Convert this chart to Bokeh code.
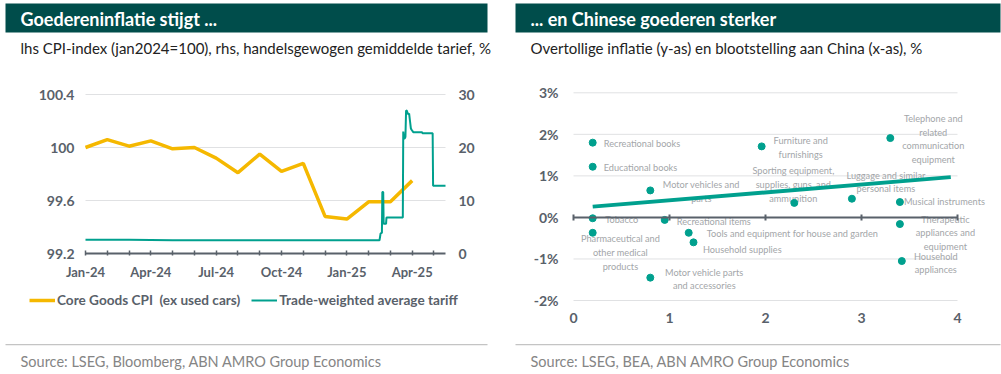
from bokeh.plotting import figure
from bokeh.models import (Range1d, LinearAxis, FixedTicker, Legend, LegendItem, Label,
                          BoxAnnotation, ColumnDataSource, PrintfTickFormatter)
from bokeh.layouts import row
from bokeh.embed import file_html
from bokeh.resources import INLINE
from bokeh.core.properties import value

# ---------------- data: left panel ----------------
cpi_month = list(range(16))  # 0 = Jan-24 ... 15 = Apr-25
cpi_index = [100.0, 100.06, 100.01, 100.05, 99.99, 100.0, 99.92, 99.81,
             99.95, 99.82, 99.88, 99.48, 99.46, 99.59, 99.59, 99.75]

tariff_month = [0, 2, 4, 6, 8, 10, 12, 13.50, 13.55, 13.61, 13.63, 13.67, 13.69,
                13.80, 13.82, 14.57, 14.59, 14.62, 14.66, 14.69, 14.72, 14.76,
                14.80, 14.86, 14.90, 14.94, 14.98, 15.05, 15.45, 15.47, 15.94,
                15.96, 16.53]
tariff_rate = [2.6, 2.6, 2.5, 2.5, 2.5, 2.5, 2.5, 2.5, 3.8, 3.9, 11.6, 11.6, 5.6,
               5.6, 6.8, 6.8, 23.0, 21.7, 21.7, 22.0, 27.0, 26.9, 26.3, 26.4,
               25.0, 23.6, 23.3, 22.9, 22.9, 22.7, 22.7, 12.8, 12.8]

month_domain = [0, 16.53]
month_ticks = list(range(17))
quarter_ticks = [0, 3, 6, 9, 12, 15]
quarter_labels = ["Jan-24", "Apr-24", "Jul-24", "Oct-24", "Jan-25", "Apr-25"]
cpi_domain = [99.2, 100.4]
cpi_ticks = [99.2, 99.6, 100, 100.4]
cpi_tick_labels = ["99.2", "99.6", "100", "100.4"]
tariff_domain = [0, 30]
tariff_ticks = [0, 10, 20, 30]

# ---------------- data: right panel ----------------
categories = ["Recreational books", "Educational books", "Motor vehicles and\nparts",
              "Furniture and\nfurnishings",
              "Telephone and\nrelated\ncommunication\nequipment",
              "Sporting equipment,\nsupplies, guns, and\nammunition",
              "Luggage and similar\npersonal items", "Musical instruments", "Tobacco",
              "Recreational items", "Tools and equipment for house and garden",
              "Household supplies", "Pharmaceutical and\nother medical\nproducts",
              "Motor vehicle parts\nand accessories",
              "Therapeutic\nappliances and\nequipment", "Household\nappliances"]
china_exposure = [0.20, 0.20, 0.80, 1.96, 3.30, 2.30, 2.90, 3.40, 0.20, 0.95, 1.20,
                  1.25, 0.20, 0.80, 3.40, 3.42]
excess_inflation = [1.80, 1.22, 0.65, 1.71, 1.91, 0.35, 0.45, 0.37, -0.02, -0.06,
                    -0.37, -0.60, -0.37, -1.45, -0.16, -1.05]
trend_x = [0.20, 3.93]
trend_y = [0.26, 0.97]
x_domain = [0, 4]
x_ticks = [0, 1, 2, 3, 4]
pct_domain = [-2, 3]
pct_ticks = [-2, -1, 0, 1, 2, 3]

# ---------------- styles ----------------
FONT = "Lato"
HDR = "#004d4b"
TEAL = "#00a08e"
YELLOW = "#f5b800"
AX = "#59616a"
GRID = "#e0e1e3"
LBL = "#a3a6a9"
SRC = "#858585"
SEP = "#c4c4c4"
H = 374

label_dx = [11, 11, 51, 39, 43, -1, 34, 4, 12.5, 12, 18, 9.5, 27.7, 54, 45.5, 34]
label_dy = [1, 1, 1, 1.3, 1, -18.3, -16.7, -1, 1, 1.5, 1, 7, 19.6, 1.3, 8.7, 2]
label_align = ["left", "left", "center", "center", "center", "center", "center", "left",
               "left", "left", "left", "left", "center", "center", "center", "center"]


def fit_range(v0, v1, p0, p1, total):
    """Range so that value v0 sits at pixel p0 and v1 at p1 of a canvas side of length total."""
    scale = (p1 - p0) / (v1 - v0)
    start = v0 - p0 / scale
    return Range1d(start, start + total / scale)


def header(p, left, right, tx, title, subtitle, source):
    cu = dict(left_units="canvas", right_units="canvas", top_units="canvas",
              bottom_units="canvas", fill_alpha=1, line_color=None)
    p.add_layout(BoxAnnotation(left=left, right=right, top=3, bottom=32, fill_color=HDR, **cu))
    p.add_layout(Label(x=tx, y=18, x_units="canvas", y_units="canvas", text=title,
                       text_color="white", text_font=FONT, text_font_style="bold",
                       text_font_size="18px", text_baseline="middle"))
    p.add_layout(Label(x=tx, y=47.5, x_units="canvas", y_units="canvas",
                       text=subtitle, text_color="#222222", text_font=FONT,
                       text_font_size="15px", text_baseline="middle"))
    p.add_layout(BoxAnnotation(left=left, right=right, top=343.5, bottom=344.7,
                               fill_color=SEP, **cu))
    p.add_layout(Label(x=tx, y=361, x_units="canvas", y_units="canvas",
                       text=source, text_color=SRC, text_font=FONT,
                       text_font_size="14.5px", text_baseline="middle"))


def style_axis(ax, size="13px"):
    ax.major_label_text_font = FONT
    ax.major_label_text_font_style = "bold"
    ax.major_label_text_font_size = size
    ax.major_label_text_color = AX
    ax.minor_tick_line_color = None


def bare(ax):
    ax.axis_line_color = None
    ax.major_tick_line_color = None
    ax.major_tick_out = 0
    ax.major_tick_in = 0


# ---------------- left figure ----------------
WL = 500
pL = figure(width=WL, height=H,
            x_range=fit_range(*month_domain, 85, 445, WL),
            y_range=fit_range(*cpi_domain, H - 253, H - 94, H),
            x_axis_location=None, y_axis_location=None, min_border=0,
            output_backend="svg", toolbar_location=None)
pL.extra_y_ranges = {"tariff": fit_range(*tariff_domain, H - 253, H - 94, H)}
pL.outline_line_color = None
pL.background_fill_color = "white"
pL.border_fill_color = "white"
pL.grid.visible = False

grid_l = cpi_ticks[1:]
pL.segment(x0=month_domain[0], x1=month_domain[1], y0=grid_l, y1=grid_l,
           line_color=GRID, line_width=1)

r_cpi = pL.line(cpi_month, cpi_index, color=YELLOW, line_width=3.5)
r_tar = pL.line(tariff_month, tariff_rate, color=TEAL, line_width=2, y_range_name="tariff")

yl = LinearAxis(fixed_location=month_domain[0], ticker=FixedTicker(ticks=cpi_ticks))
yl.major_label_overrides = dict(zip(cpi_ticks, cpi_tick_labels))
bare(yl)
yl.major_label_standoff = 11
style_axis(yl, "14px")
pL.add_layout(yl, "left")

yr = LinearAxis(y_range_name="tariff", fixed_location=month_domain[1],
                ticker=FixedTicker(ticks=tariff_ticks))
bare(yr)
yr.major_label_standoff = 13
style_axis(yr, "14px")
pL.add_layout(yr, "right")

xl = LinearAxis(fixed_location=cpi_domain[0], bounds=tuple(month_domain),
                ticker=FixedTicker(ticks=month_ticks))
ql = dict(zip(quarter_ticks, quarter_labels))
xl.major_label_overrides = {m: ql.get(m, "") for m in month_ticks}
xl.axis_line_color = AX
xl.axis_line_width = 2
xl.major_tick_line_color = AX
xl.major_tick_line_width = 1.5
xl.major_tick_in = 3
xl.major_tick_out = 2
xl.major_label_standoff = 8
style_axis(xl)
pL.add_layout(xl, "below")

leg = Legend(items=[LegendItem(label="Core Goods CPI  (ex used cars)", renderers=[r_cpi]),
                    LegendItem(label="Trade-weighted average tariff", renderers=[r_tar])],
             orientation="horizontal", location=(29, H - 308), padding=0, margin=0,
             spacing=11, glyph_width=26, glyph_height=16, label_height=16,
             label_standoff=2, border_line_color=None, background_fill_alpha=0,
             label_text_font=FONT, label_text_font_size="13.6px",
             label_text_font_style="bold", label_text_color=AX)
pL.add_layout(leg)

header(pL, 5, 487, 20, "Goedereninflatie stijgt ...",
       "lhs CPI-index (jan2024=100), rhs, handelsgewogen gemiddelde tarief, %",
       "Source: LSEG, Bloomberg, ABN AMRO Group Economics")

# ---------------- right figure ----------------
WR = 501
pR = figure(width=WR, height=H,
            x_range=fit_range(*x_domain, 73, 457, WR),
            y_range=fit_range(*pct_domain, H - 300, H - 92.3, H),
            x_axis_location=None, y_axis_location=None, min_border=0,
            output_backend="svg", toolbar_location=None)
pR.outline_line_color = None
pR.background_fill_color = "white"
pR.border_fill_color = "white"
pR.grid.visible = False

grid_r = [t for t in pct_ticks if t != 0]
pR.segment(x0=x_domain[0], x1=x_domain[1], y0=grid_r, y1=grid_r,
           line_color=GRID, line_width=1)

src = ColumnDataSource(dict(x=china_exposure, y=excess_inflation, name=categories,
                            dx=label_dx, dy=label_dy, align=label_align))
pR.text("x", "y", text="name", x_offset="dx", y_offset="dy", text_align="align",
        text_baseline="middle", text_font=value(FONT), text_font_size="9.2px",
        text_line_height=1.25, text_color=LBL, source=src)
pR.line(trend_x, trend_y, color=TEAL, line_width=4)
pR.scatter("x", "y", source=src, size=7, color=TEAL)

ya = LinearAxis(fixed_location=x_domain[0], ticker=FixedTicker(ticks=pct_ticks),
                formatter=PrintfTickFormatter(format="%d%%"))
bare(ya)
ya.major_label_standoff = 15
style_axis(ya, "14px")
pR.add_layout(ya, "left")

xa = LinearAxis(fixed_location=pct_domain[0], ticker=FixedTicker(ticks=x_ticks))
bare(xa)
xa.major_label_standoff = 12
style_axis(xa, "14px")
pR.add_layout(xa, "below")

ax0 = LinearAxis(fixed_location=0, bounds=tuple(x_domain), ticker=FixedTicker(ticks=x_ticks))
ax0.axis_line_color = AX
ax0.axis_line_width = 2
ax0.major_tick_line_color = AX
ax0.major_tick_line_width = 2
ax0.major_tick_in = 3
ax0.major_tick_out = 3
ax0.minor_tick_line_color = None
ax0.major_label_overrides = {t: "" for t in x_ticks}
pR.add_layout(ax0, "below")

header(pR, 15, 500, 30, "... en Chinese goederen sterker",
       "Overtollige inflatie (y-as) en blootstelling aan China (x-as), %",
       "Source: LSEG, BEA, ABN AMRO Group Economics")

layout = row(pL, pR)
open("out.html", "w").write(file_html(layout, INLINE))
